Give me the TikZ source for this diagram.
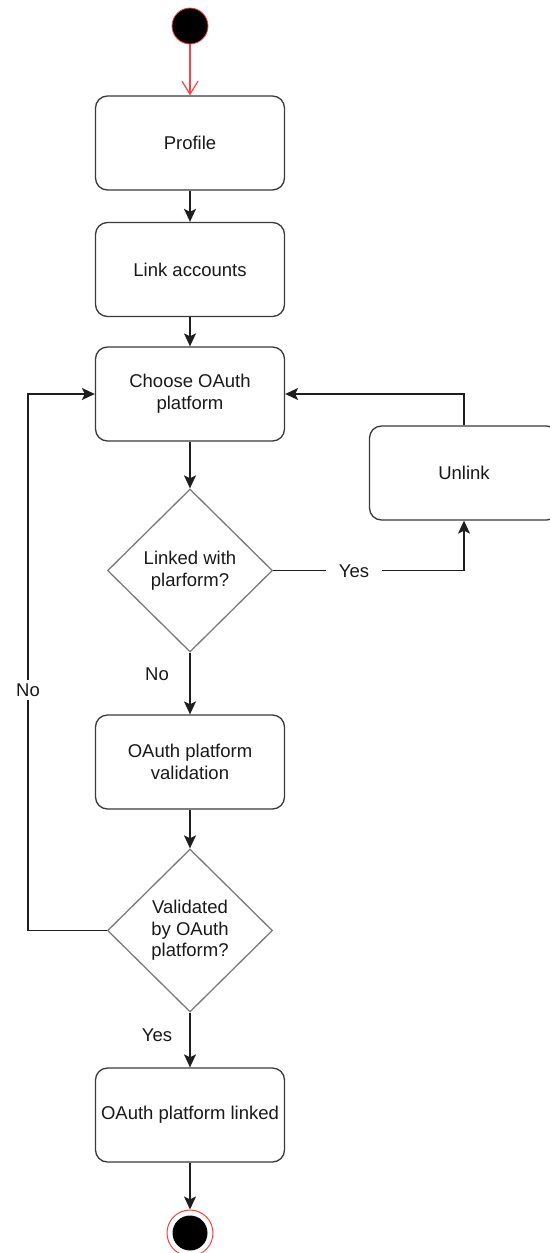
\documentclass[tikz,border=0pt]{standalone}
\usepackage{fontspec}
\setmainfont{Liberation Sans}
\usetikzlibrary{shapes.geometric,arrows.meta}
\definecolor{boxline}{HTML}{3A3A3A}
\definecolor{decline}{HTML}{7A7A7A}
\definecolor{flow}{HTML}{1E1E1E}
\definecolor{startred}{HTML}{FF4040}
\tikzset{
  lbl/.style={font=\fontsize{18.5}{21.7}\selectfont, text=black!90, align=center},
  stepbox/.style={lbl, draw=boxline, line width=1.3pt, rounded corners=12pt,
    minimum width=189pt, minimum height=94pt, inner sep=0pt, fill=white},
  decision/.style={lbl, draw=decline, line width=1.3pt, diamond, aspect=1,
    minimum width=165pt, minimum height=163pt, inner sep=0pt, fill=white},
  flowline/.style={draw=flow, line width=1.5pt,
    -{Stealth[length=13pt,width=12pt,inset=3pt]}},
  edgetext/.style={lbl, fill=white, inner sep=2pt},
}
\begin{document}
\begin{tikzpicture}[x=1pt,y=-1pt]
\useasboundingbox (0,0) rectangle (549,1253);
\fill[white] (0,0) rectangle (549,1253);

% start state
\node (start) at (190,26) [circle, fill=black, draw=startred, line width=0.8pt,
  minimum size=36pt, inner sep=0pt] {};

% activities
\node[stepbox] (profile) at (190,143) {Profile};
\node[stepbox] (link) at (190,269.5) {Link accounts};
\node[stepbox] (choose) at (190,394) {Choose OAuth\\platform};
\node[decision] (linked) at (190,570.5) {Linked with\\plarform?};
\node[stepbox] (unlink) at (464,473) {Unlink};
\node[stepbox] (valid) at (190,762) {OAuth platform\\validation};
\node[decision] (validated) at (190,930.5) {Validated\\by OAuth\\platform?};
\node[stepbox] (done) at (190,1115) {OAuth platform linked};

% final state
\node (finish) at (190,1233) [circle, draw=startred, line width=1pt,
  minimum size=46pt, inner sep=0pt] {};
\node (finishdot) at (finish) [circle, fill=black, minimum size=35pt, inner sep=0pt] {};

% flow
\draw[startred, line width=1.2pt, -{Straight Barb[length=13pt,width=16pt]}]
  (start) -- (profile);
\draw[flowline] (profile) -- (link);
\draw[flowline] (link) -- (choose);
\draw[flowline] (choose) -- (linked);
\draw[flowline] (linked) -- (valid);
\draw[flowline] (valid) -- (validated);
\draw[flowline] (validated) -- (done);
\draw[flowline] (done) -- (finish);

% already linked: unlink and choose again
\draw[flowline] (linked.east) -| (unlink.south);
\draw[flowline] (unlink.north) |- (choose.east);
\node[edgetext, inner xsep=13pt] (yes1) at (354,571) {Yes};

% validation failed: back to the platform choice
\draw[flowline] (validated.west) -- ++(-79,0) |- (choose.west);
\node[edgetext, inner ysep=4pt] (no2) at (28,690) {No};

% branch labels
\node[lbl] (no1) at (157,674) {No};
\node[lbl] (yes2) at (157,1035) {Yes};
\end{tikzpicture}
\end{document}
